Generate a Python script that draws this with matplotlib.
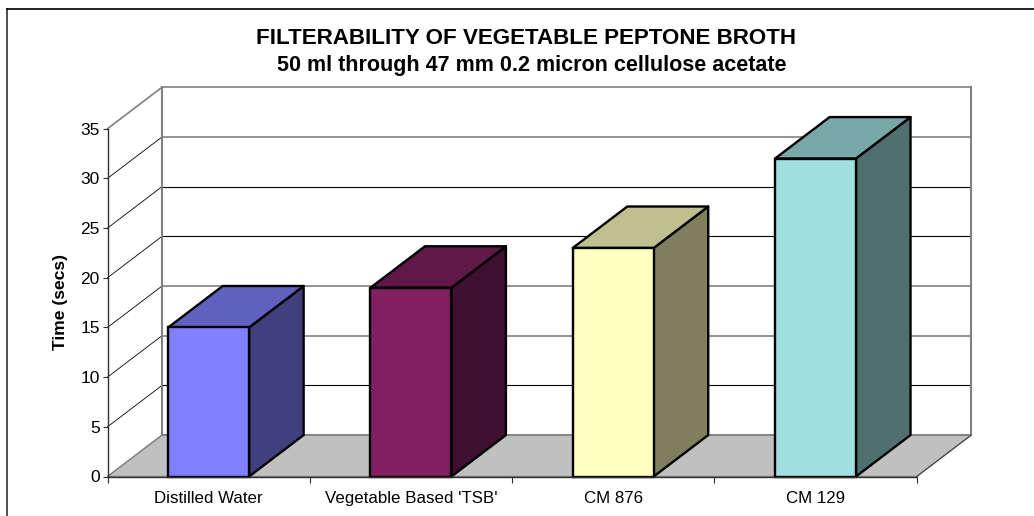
import matplotlib
matplotlib.use('Agg')
import matplotlib.pyplot as plt
from matplotlib.patches import Polygon
from matplotlib.lines import Line2D

plt.rcParams['font.family'] = ['Liberation Sans', 'DejaVu Sans']

categories = ['Distilled Water', "Vegetable Based 'TSB'", 'CM 876', 'CM 129']
times = [15, 19, 23, 32]
front_colors = ['#8080FF', '#802060', '#FFFFC0', '#A0E0E0']
top_colors = ['#6060BF', '#601848', '#BFBF90', '#78A8A8']
side_colors = ['#40407F', '#401030', '#7F7F60', '#507070']
y_ticks = [0, 5, 10, 15, 20, 25, 30, 35]
grid_colors = ['#808080', '#000000', '#808080', '#808080', '#000000', '#000000', '#808080', '#808080']

W, H = 1034, 516
fig = plt.figure(figsize=(W / 100, H / 100), dpi=100)
ax = fig.add_axes([107.5 / W, 1 - 476.5 / H, 809.2 / W, 347.8 / H])
ax.set_xlim(0, 4)
ax.set_ylim(0, 35)
ax.patch.set_visible(False)

# depth of the fake 3d box, in data units
dx = 0.2695
dy = 4.17
bar_w = 0.4

# floor
ax.add_patch(Polygon([(0, 0), (4, 0), (4 + dx, dy), (dx, dy)], fc='#C0C0C0', ec='#808080', lw=1, clip_on=False, zorder=1))

# back wall and side wall grid
for v, c in zip(y_ticks, grid_colors):
    ax.plot([dx, 4 + dx], [v + dy, v + dy], color=c, lw=0.8 if c == '#000000' else 1.2, clip_on=False, zorder=1.5)
    side_c = '#808080' if v in (0, 35) else '#000000'
    ax.plot([0, dx], [v, v + dy], color=side_c, lw=1.2 if v == 35 else 0.6, clip_on=False, zorder=1.5)
ax.plot([dx, dx], [dy, 35 + dy], color='#808080', lw=1.5, clip_on=False, zorder=1.5)
ax.plot([4 + dx, 4 + dx], [dy, 35 + dy], color='#808080', lw=1.5, clip_on=False, zorder=1.5)
ax.plot([4, 4 + dx], [0, dy], color='#404040', lw=0.7, clip_on=False, zorder=1.5)

# bars
for i, t in enumerate(times):
    x0 = i + 0.5 - bar_w / 2
    x1 = i + 0.5 + bar_w / 2
    ax.add_patch(Polygon([(x1, 0), (x1 + dx, dy), (x1 + dx, t + dy), (x1, t)], fc=side_colors[i], ec='black', lw=1.7, joinstyle='round', clip_on=False, zorder=3))
    ax.add_patch(Polygon([(x0, t), (x1, t), (x1 + dx, t + dy), (x0 + dx, t + dy)], fc=top_colors[i], ec='black', lw=1.7, joinstyle='round', clip_on=False, zorder=3))
    ax.bar(i + 0.5, t, width=bar_w, color=front_colors[i], edgecolor='black', lw=1.7, zorder=4, clip_on=False)

for s in ['top', 'right']:
    ax.spines[s].set_visible(False)
for s in ['left', 'bottom']:
    ax.spines[s].set_color('#303030')
    ax.spines[s].set_linewidth(1)
    ax.spines[s].set_zorder(5)

ax.set_yticks(y_ticks)
ax.set_xticks([0, 1, 2, 3, 4])
ax.set_xticklabels([])
ax.tick_params(axis='y', length=3.5, width=0.8, color='#303030', labelsize=12.5, pad=2)
ax.tick_params(axis='x', length=4.5, width=0.8, color='#303030')
for i, c in enumerate(categories):
    ax.annotate(c, (i + 0.5, 0), xytext=(0, -15.5), textcoords='offset points', ha='center', va='center', fontsize=12.2, annotation_clip=False)

fig.text(60 / W, 1 - 302 / H, 'Time (secs)', rotation=90, ha='center', va='center', fontsize=12.6, fontweight='bold')
fig.text(526 / W, 1 - 38 / H, 'FILTERABILITY OF VEGETABLE PEPTONE BROTH', ha='center', va='center', fontsize=16.1, fontweight='bold')
fig.text(532 / W, 1 - 66 / H, '50 ml through 47 mm 0.2 micron cellulose acetate', ha='center', va='center', fontsize=15.5, fontweight='bold')

# chart frame, only top and left are in the picture
fig.add_artist(Line2D([7 / W, 7 / W], [0, 1 - 9 / H], color='#303030', lw=1.2))
fig.add_artist(Line2D([7 / W, 1], [1 - 9 / H, 1 - 9 / H], color='black', lw=1.2))

fig.savefig('out.png', dpi=100)
